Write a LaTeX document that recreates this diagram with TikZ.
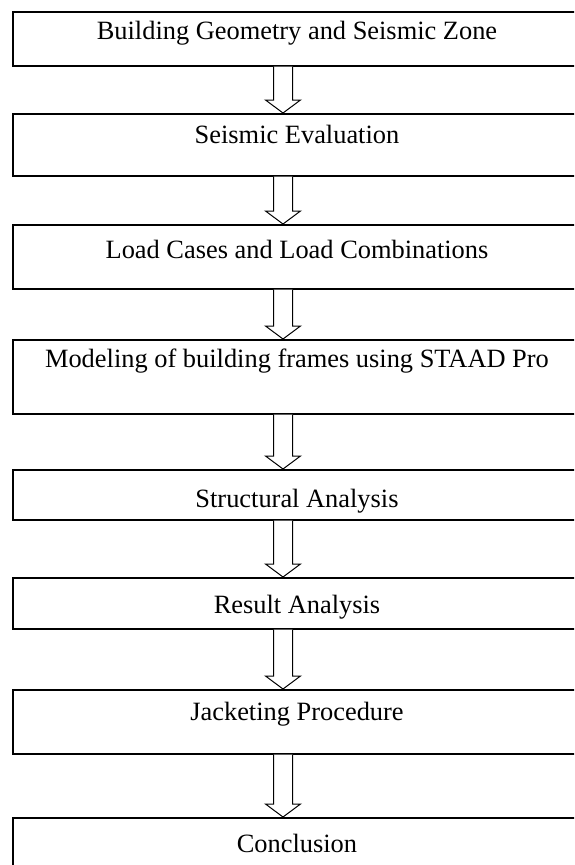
\documentclass[tikz,border=0pt]{standalone}
\usepackage{fontspec}
\setmainfont{Liberation Serif}
\usetikzlibrary{calc}
\begin{document}
\begin{tikzpicture}[x=1pt,y=-1pt,
  box/.style={draw=black,line width=1.6pt,minimum width=568pt,inner sep=0pt,anchor=north},
  txt/.style={anchor=base,inner sep=0pt,font=\fontsize{26.4}{30}\selectfont},
  arr/.style={draw=black,fill=white,line width=1pt,line join=miter}]
\useasboundingbox (0,0) rectangle (574,865);
\clip (0,0) rectangle (574,865);
\coordinate (ax) at (283,0);
% boxes
\node[box,minimum height=54pt] (b1) at (297,11) {};
\node[box,minimum height=62pt] (b2) at (297,113) {};
\node[box,minimum height=64pt] (b3) at (297,224) {};
\node[box,minimum height=74pt] (b4) at (297,339) {};
\node[box,minimum height=50pt] (b5) at (297,469) {};
\node[box,minimum height=51pt] (b6) at (297,577) {};
\node[box,minimum height=64pt] (b7) at (297,689) {};
\node[box,minimum height=60pt] (b8) at (297,817) {};
% texts
\node[txt] (t1) at (297,39) {Building Geometry and Seismic Zone};
\node[txt] (t2) at (297,143) {Seismic Evaluation};
\node[txt] (t3) at (297,258) {Load Cases and Load Combinations};
\node[txt] (t4) at (297,367) {Modeling of building frames using STAAD Pro};
\node[txt] (t5) at (297,507) {Structural Analysis};
\node[txt] (t6) at (297,613) {Result Analysis};
\node[txt] (t7) at (297,720) {Jacketing Procedure};
\node[txt] (t8) at (297,852) {Conclusion};
% block arrows
\foreach \a/\b in {b1/b2,b2/b3,b3/b4,b4/b5,b5/b6,b6/b7,b7/b8}{
  \draw[arr] ($(\a.south -| ax)+(-9.5,0)$) -- ($(\b.north -| ax)+(-9.5,-13)$)
    -- ($(\b.north -| ax)+(-17.5,-13)$) -- (\b.north -| ax)
    -- ($(\b.north -| ax)+(17.5,-13)$) -- ($(\b.north -| ax)+(9.5,-13)$)
    -- ($(\a.south -| ax)+(9.5,0)$);
}
\end{tikzpicture}
\end{document}
